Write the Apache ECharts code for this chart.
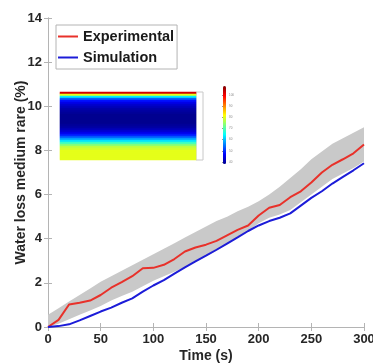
<!DOCTYPE html>
<html>
<head>
<meta charset="utf-8">
<script src="https://cdn.jsdelivr.net/npm/echarts@6/dist/echarts.min.js"></script>
<style>
  html, body { margin: 0; padding: 0; background: #fff; }
  #chart { width: 373px; height: 363px; }
</style>
</head>
<body>
<div id="chart"></div>
<script>
// time samples (s)
const TIME = [0, 10, 20, 30, 40, 50, 60, 70, 80, 90, 100, 110, 120, 130, 140, 150,
  160, 170, 180, 190, 200, 210, 220, 230, 240, 250, 260, 270, 280, 290, 300];
// water loss (%)
const EXPERIMENTAL = [0, 0.32, 1.02, 1.1, 1.2, 1.45, 1.78, 2.03, 2.3, 2.66, 2.68, 2.82, 3.08, 3.42, 3.6, 3.73,
  3.9, 4.15, 4.4, 4.6, 5.05, 5.4, 5.53, 5.88, 6.15, 6.55, 7.0, 7.35, 7.6, 7.87, 8.27];
const SIMULATION = [0, 0.04, 0.12, 0.3, 0.5, 0.7, 0.88, 1.1, 1.3, 1.6, 1.88, 2.12, 2.42, 2.7, 2.97, 3.23,
  3.5, 3.78, 4.06, 4.35, 4.6, 4.8, 4.95, 5.15, 5.5, 5.85, 6.15, 6.5, 6.8, 7.1, 7.42];
// experimental spread (grey band)
const BAND_LOW = [0, 0.15, 0.35, 0.55, 0.75, 0.95, 1.2, 1.4, 1.6, 1.85, 2.1, 2.3, 2.5, 2.72, 2.95, 3.2,
  3.45, 3.75, 4.05, 4.35, 4.7, 4.95, 5.1, 5.3, 5.65, 6.0, 6.35, 6.7, 6.95, 7.2, 7.5];
const BAND_HIGH = [0.55, 0.85, 1.15, 1.45, 1.75, 2.05, 2.3, 2.55, 2.8, 3.05, 3.3, 3.55, 3.8, 4.05, 4.3, 4.55,
  4.8, 5.0, 5.25, 5.45, 5.7, 6.0, 6.35, 6.75, 7.15, 7.6, 7.95, 8.3, 8.55, 8.8, 9.05];

// inset: normalised moisture profile, top row to bottom row
const PROFILE = [0.92, 0.6, 0.36, 0.22, 0.14, 0.1, 0.07, 0.05, 0.03, 0.02, 0.01, 0, 0, 0,
  0, 0, 0.01, 0.02, 0.04, 0.07, 0.1, 0.15, 0.21, 0.28, 0.35, 0.43, 0.5, 0.56, 0.58,
  0.6, 0.6, 0.6, 0.6, 0.6];
const COLORBAR_TICKS = [40, 50, 60, 70, 80, 90, 100];
const JET = ['#00008f', '#0000ff', '#007fff', '#00ffff', '#7fff7f', '#ffff00', '#ff7f00', '#ff0000', '#7f0000'];

const FONT = 'Liberation Sans, Arial, sans-serif';
const AXIS_COLOR = '#b4b4b4';
const LABEL_COLOR = '#262626';

const pairs = (ys) => TIME.map((t, i) => [t, ys[i]]);
const heatData = PROFILE.map((v, r) => [0, r, v]);

const chart = echarts.init(document.getElementById('chart'), null, { renderer: 'canvas' });

const mainX = {
  type: 'value', min: 0, max: 300, interval: 50,
  axisLine: { lineStyle: { color: AXIS_COLOR } },
  axisTick: { inside: true, length: 4, lineStyle: { color: AXIS_COLOR } },
  splitLine: { show: false },
};
const mainY = {
  type: 'value', min: 0, max: 14, interval: 2,
  axisLine: { show: true, lineStyle: { color: AXIS_COLOR } },
  axisTick: { show: true, inside: true, length: 4, lineStyle: { color: AXIS_COLOR } },
  splitLine: { show: false },
};
const hidden = (gridIndex) => ({ gridIndex, type: 'value', show: false });

chart.setOption({
  animation: false,
  textStyle: { fontFamily: FONT },
  grid: [
    { left: 48, top: 18, right: 9, bottom: 36, outerBoundsMode: 'none' },
    { left: 60, top: 92, width: 136, height: 68, outerBoundsMode: 'none' },
    { left: 223, top: 95, width: 3, height: 67, outerBoundsMode: 'none' },
    { left: 196, top: 92, width: 7, height: 68, show: true, borderColor: '#c8c8c8', borderWidth: 1, outerBoundsMode: 'none' },
  ],
  legend: {
    data: ['Experimental', 'Simulation'],
    orient: 'vertical',
    left: 56, top: 25,
    padding: [4, 3, 4, 2],
    itemGap: 6,
    itemWidth: 20, itemHeight: 2,
    icon: 'rect',
    borderColor: '#b4b4b4', borderWidth: 1,
    backgroundColor: '#fff',
    textStyle: { fontFamily: FONT, fontSize: 14.5, fontWeight: 'bold', color: '#1a1a1a' },
  },
  xAxis: [
    Object.assign({}, mainX, {
      gridIndex: 0, position: 'bottom',
      name: 'Time (s)', nameLocation: 'middle', nameGap: 22, nameMoveOverlap: false,
      nameTextStyle: { fontFamily: FONT, fontSize: 14, fontWeight: 'bold', color: LABEL_COLOR },
      axisLabel: { fontFamily: FONT, fontSize: 13, fontWeight: 'bold', color: LABEL_COLOR, margin: 6 },
    }),
    Object.assign({}, mainX, { gridIndex: 0, position: 'top', axisLabel: { show: false } }),
    { gridIndex: 1, type: 'category', data: ['slab'], show: false },
    hidden(2),
    hidden(3),
  ],
  yAxis: [
    Object.assign({}, mainY, {
      gridIndex: 0, position: 'left',
      name: 'Water loss medium rare (%)', nameLocation: 'middle', nameGap: 20, nameMoveOverlap: false,
      nameTextStyle: { fontFamily: FONT, fontSize: 14, fontWeight: 'bold', color: LABEL_COLOR },
      axisLabel: { fontFamily: FONT, fontSize: 13, fontWeight: 'bold', color: LABEL_COLOR, margin: 6 },
    }),
    Object.assign({}, mainY, { gridIndex: 0, position: 'right', axisLabel: { show: false } }),
    { gridIndex: 1, type: 'category', data: PROFILE.map((_, i) => 'r' + i), inverse: true, show: false },
    {
      gridIndex: 2, type: 'value', position: 'right', min: 40, max: 100, interval: 10,
      axisLine: { show: false },
      axisTick: { show: true, inside: true, length: 1, lineStyle: { color: '#999' } },
      splitLine: { show: false },
      axisLabel: { fontSize: 3, color: '#888', margin: 3,
        formatter: (v) => COLORBAR_TICKS.includes(v) ? String(v) : '' },
    },
    hidden(3),
  ],
  visualMap: {
    type: 'continuous', seriesIndex: 3,
    min: 0, max: 1,
    inRange: { color: JET },
    left: 208, top: 71,
    itemWidth: 3, itemHeight: 78,
    text: ['', ''],
    calculable: false, hoverLink: false,
  },
  series: [
    {
      name: 'band', type: 'custom', xAxisIndex: 0, yAxisIndex: 0,
      data: [[0, 0]], silent: true, z: 1,
      renderItem: (params, api) => {
        const top = TIME.map((t, i) => api.coord([t, BAND_HIGH[i]]));
        const bottom = TIME.map((t, i) => api.coord([t, BAND_LOW[i]])).reverse();
        return { type: 'polygon', shape: { points: top.concat(bottom) }, style: { fill: '#c9c9c9' } };
      },
    },
    {
      name: 'Experimental', type: 'line', xAxisIndex: 0, yAxisIndex: 0,
      data: pairs(EXPERIMENTAL), symbol: 'none', z: 3,
      lineStyle: { color: '#e8312a', width: 2 }, itemStyle: { color: '#e8312a' },
    },
    {
      name: 'Simulation', type: 'line', xAxisIndex: 0, yAxisIndex: 0,
      data: pairs(SIMULATION), symbol: 'none', z: 3,
      lineStyle: { color: '#1c1cd8', width: 2 }, itemStyle: { color: '#1c1cd8' },
    },
    {
      name: 'inset', type: 'heatmap', xAxisIndex: 2, yAxisIndex: 2,
      data: heatData, silent: true, z: 5,
      emphasis: { disabled: true },
    },
  ],
});
</script>
</body>
</html>
